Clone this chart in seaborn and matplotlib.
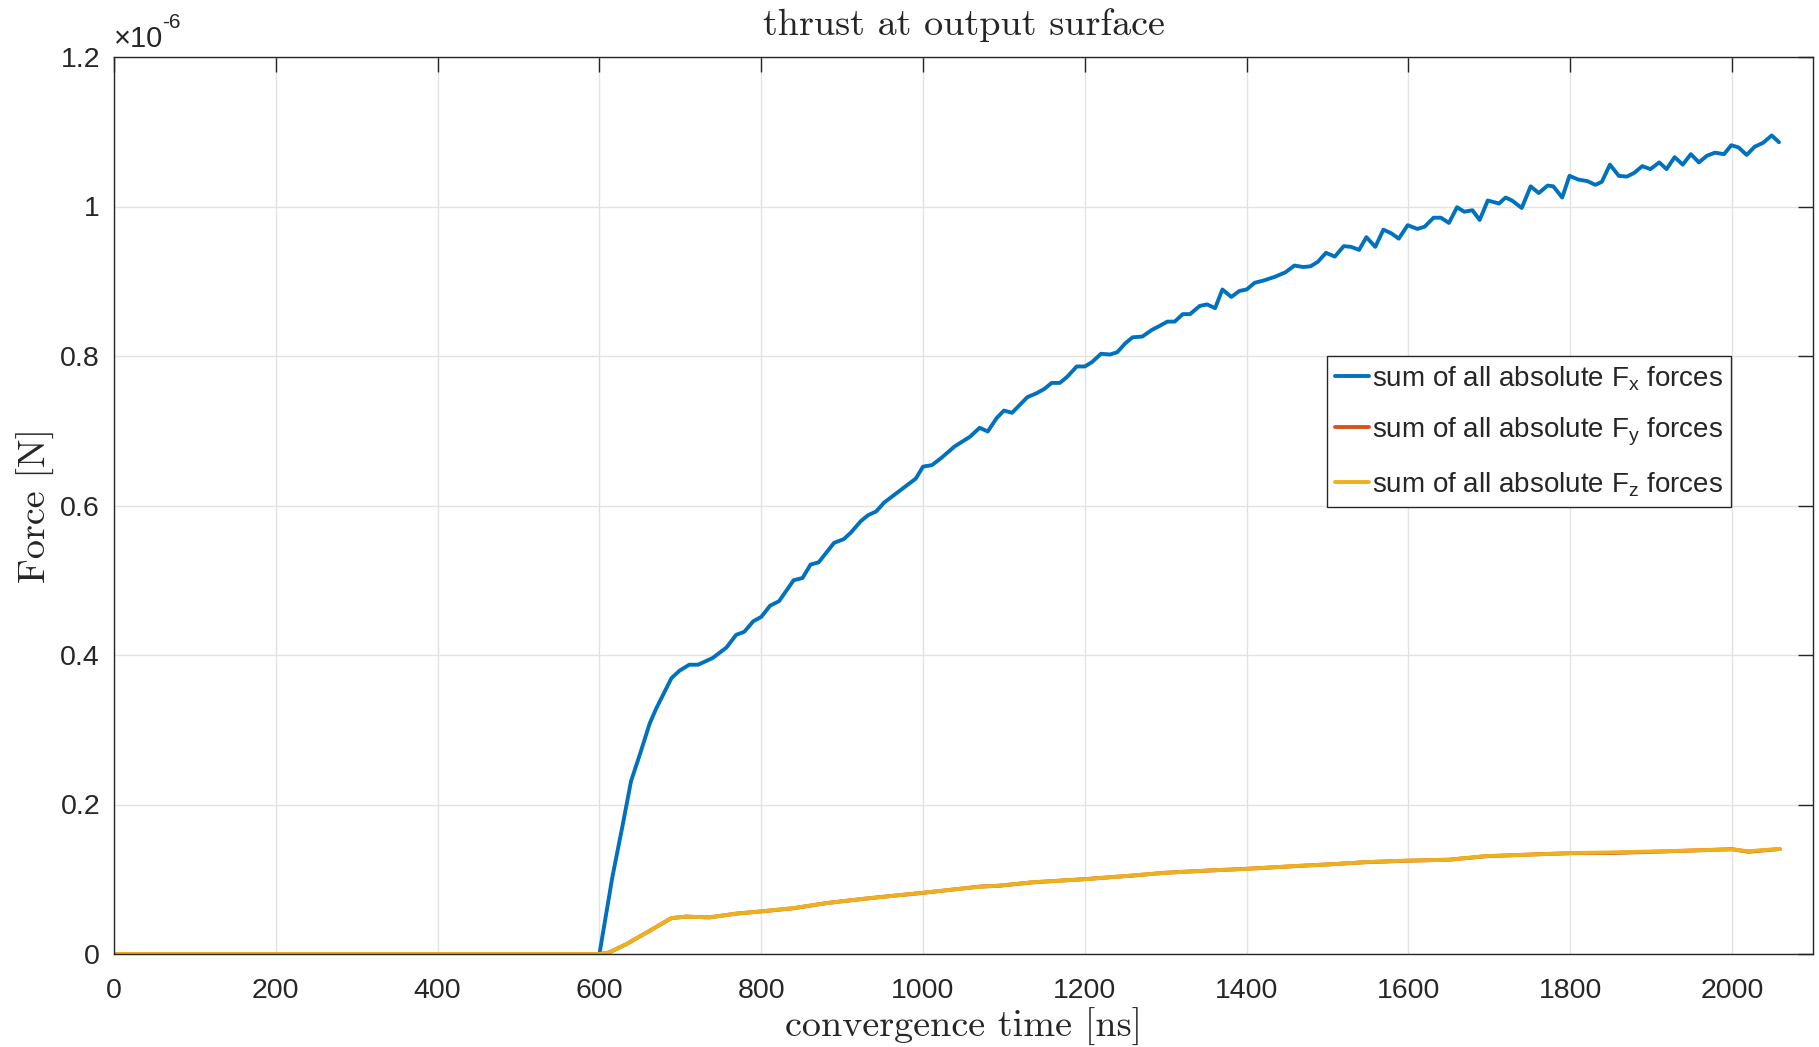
import pandas as pd
import matplotlib
matplotlib.use("Agg")
import matplotlib.pyplot as plt
import seaborn as sns
from matplotlib.ticker import FuncFormatter, MultipleLocator

# values, forces in units of 1e-6 N
time_fx = [0, 600, 616, 629, 639, 650, 662, 670, 689, 699,
           711, 722, 740, 757, 769, 779, 790, 800, 811, 822,
           840, 851, 861, 871, 890, 902, 911, 923, 932, 942,
           952, 969, 981, 991, 1000, 1011, 1023, 1039, 1058, 1070,
           1080, 1091, 1100, 1110, 1129, 1140, 1150, 1159, 1169, 1178,
           1190, 1200, 1209, 1220, 1231, 1240, 1250, 1259, 1271, 1283,
           1292, 1302, 1311, 1321, 1330, 1342, 1351, 1361, 1370, 1381,
           1391, 1400, 1410, 1421, 1435, 1448, 1459, 1470, 1479, 1488,
           1498, 1509, 1520, 1529, 1539, 1548, 1559, 1569, 1579, 1588,
           1599, 1611, 1620, 1631, 1640, 1650, 1660, 1669, 1679, 1688,
           1698, 1712, 1720, 1728, 1740, 1751, 1761, 1772, 1779, 1790,
           1799, 1810, 1821, 1831, 1839, 1849, 1860, 1870, 1879, 1889,
           1899, 1910, 1919, 1929, 1939, 1949, 1959, 1969, 1979, 1990,
           1999, 2008, 2018, 2028, 2038, 2049, 2058]
fx = [0, 0, 0.103, 0.174, 0.231, 0.267, 0.308, 0.328, 0.369, 0.379,
      0.387, 0.387, 0.396, 0.410, 0.427, 0.431, 0.445, 0.451, 0.466, 0.472,
      0.500, 0.503, 0.521, 0.524, 0.550, 0.555, 0.564, 0.579, 0.587, 0.592,
      0.604, 0.618, 0.628, 0.636, 0.652, 0.654, 0.664, 0.679, 0.692, 0.704,
      0.699, 0.717, 0.727, 0.724, 0.745, 0.750, 0.756, 0.764, 0.764, 0.772,
      0.786, 0.786, 0.792, 0.803, 0.802, 0.805, 0.817, 0.825, 0.826, 0.835,
      0.840, 0.846, 0.846, 0.856, 0.856, 0.867, 0.869, 0.864, 0.889, 0.879,
      0.887, 0.889, 0.898, 0.901, 0.906, 0.912, 0.921, 0.919, 0.920, 0.926,
      0.938, 0.933, 0.947, 0.946, 0.942, 0.959, 0.946, 0.969, 0.964, 0.957,
      0.975, 0.970, 0.973, 0.985, 0.985, 0.978, 0.999, 0.993, 0.995, 0.982,
      1.008, 1.004, 1.012, 1.008, 0.998, 1.027, 1.018, 1.028, 1.027, 1.012,
      1.041, 1.036, 1.034, 1.029, 1.033, 1.056, 1.041, 1.040, 1.045, 1.054,
      1.050, 1.059, 1.050, 1.066, 1.056, 1.070, 1.059, 1.068, 1.072, 1.070,
      1.082, 1.079, 1.069, 1.080, 1.085, 1.095, 1.086]

time_fyz = [0, 600, 612, 633, 662, 689, 707, 736, 769, 800,
            840, 881, 923, 947, 1000, 1070, 1094, 1135, 1200, 1258,
            1299, 1349, 1400, 1464, 1506, 1547, 1600, 1650, 1695, 1753,
            1800, 1855, 1917, 2000, 2020, 2059]
fy = [0, 0, 0.002, 0.013, 0.031, 0.048, 0.050, 0.049, 0.054, 0.057,
      0.0612, 0.0682, 0.0733, 0.0762, 0.0818, 0.0902, 0.0913, 0.0958, 0.1002, 0.1048,
      0.1087, 0.1114, 0.1140, 0.1178, 0.1202, 0.1228, 0.1248, 0.1262, 0.1307, 0.1332,
      0.1348, 0.1352, 0.1372, 0.1402, 0.1368, 0.1404]
fz = [0, 0, 0.002, 0.013, 0.031, 0.048, 0.050, 0.049, 0.054, 0.057,
      0.0615, 0.068, 0.0735, 0.076, 0.082, 0.090, 0.0915, 0.096, 0.100, 0.105,
      0.1085, 0.1116, 0.1138, 0.118, 0.120, 0.123, 0.125, 0.126, 0.131, 0.133,
      0.135, 0.136, 0.1375, 0.140, 0.1375, 0.1406]

labels = ["sum of all absolute F$_{\\mathregular{x}}$ forces",
          "sum of all absolute F$_{\\mathregular{y}}$ forces",
          "sum of all absolute F$_{\\mathregular{z}}$ forces"]
colors = ["#0072BD", "#D95319", "#EDB120"]

frames = []
for t, v, lab in zip([time_fx, time_fyz, time_fyz], [fx, fy, fz], labels):
    frames.append(pd.DataFrame({"time": t, "force": [x * 1e-6 for x in v], "series": lab}))
df = pd.concat(frames, ignore_index=True)

sns.set_theme(style="white")
plt.rcParams["font.family"] = ["Liberation Sans", "DejaVu Sans"]
plt.rcParams["mathtext.fontset"] = "custom"
plt.rcParams["mathtext.rm"] = "Liberation Sans"

fig = plt.figure(figsize=(18.19, 10.47), dpi=100)
ax = fig.add_axes([114 / 1819, 1 - 954 / 1047, 1699 / 1819, 897 / 1047])

sns.lineplot(data=df, x="time", y="force", hue="series", hue_order=labels,
             palette=colors, estimator=None, sort=False, linewidth=2.8, ax=ax)

ax.set_xlim(0, 2100)
ax.set_ylim(0, 1.2e-6)
ax.xaxis.set_major_locator(MultipleLocator(200))
ax.yaxis.set_major_locator(MultipleLocator(0.2e-6))
ax.yaxis.set_major_formatter(FuncFormatter(lambda v, p: f"{v * 1e6:g}"))
ax.grid(True, color="#e3e3e3", linewidth=1)
ax.set_axisbelow(True)
ax.tick_params(direction="in", length=11, width=1, color="#262626",
               labelsize=20.5, labelcolor="#262626", pad=10,
               top=True, right=True)
ax.tick_params(axis="x", pad=17)
for s in ax.spines.values():
    s.set_color("#262626")
    s.set_linewidth(1)

serif = "cmr10"
ax.set_title("thrust at output surface", fontsize=27.5, family=serif, pad=16)
ax.set_xlabel("convergence time [ns]", fontsize=27.5, family=serif, labelpad=3)
ax.set_ylabel("Force [N]", fontsize=27.5, family=serif, labelpad=4)

# exponent label like MATLAB
ax.text(0.0, 1.004, "\u00d710", transform=ax.transAxes, fontsize=21,
        color="#262626", ha="left", va="bottom")
ax.text(0.0285, 1.028, "-6", transform=ax.transAxes, fontsize=15,
        color="#262626", ha="left", va="bottom")

handles, labs = ax.get_legend_handles_labels()
leg = ax.legend(handles, labs, loc="upper right", bbox_to_anchor=(0.952, 0.667),
                fontsize=20, frameon=True, fancybox=False, framealpha=1,
                edgecolor="#262626", handlelength=1.2, handletextpad=0.12,
                borderpad=0.3, labelspacing=0.8, borderaxespad=0)
leg.get_frame().set_linewidth(1)
for line in leg.get_lines():
    line.set_linewidth(2.8)

fig.savefig("out.png", dpi=100)
